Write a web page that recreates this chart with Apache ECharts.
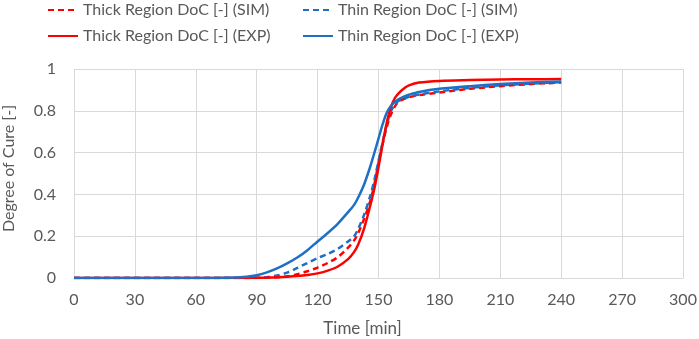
<!DOCTYPE html>
<html>
<head>
<meta charset="utf-8">
<script src="https://cdn.jsdelivr.net/npm/echarts@6/dist/echarts.min.js"></script>
<style>
  html, body { margin: 0; padding: 0; background: #fff; }
  #chart { width: 699px; height: 339px; }
</style>
</head>
<body>
<div id="chart"></div>
<script>
const timeMin = [0, 60, 75, 85, 90, 95, 100, 105, 110, 115, 120, 125, 130, 135, 138, 140, 143, 146, 148, 150,
    152, 154, 156, 158, 160, 163, 165, 170, 180, 195, 210, 225, 240];

const thickSim = [0, 0, 0, 0, 0, 0.001, 0.003, 0.008, 0.018, 0.032, 0.05, 0.072, 0.1, 0.145, 0.18, 0.215, 0.285, 0.37, 0.45, 0.55,
    0.64, 0.72, 0.78, 0.82, 0.845, 0.858, 0.865, 0.875, 0.888, 0.905, 0.918, 0.928, 0.935];
const thinSim = [0, 0, 0, 0, 0.001, 0.004, 0.012, 0.026, 0.048, 0.072, 0.095, 0.115, 0.14, 0.175, 0.2, 0.235, 0.305, 0.395, 0.47, 0.56,
    0.65, 0.73, 0.795, 0.828, 0.848, 0.86, 0.867, 0.878, 0.893, 0.91, 0.922, 0.93, 0.937];
const thickExp = [0, 0, 0, 0, 0.001, 0.002, 0.004, 0.006, 0.009, 0.014, 0.022, 0.035, 0.055, 0.09, 0.125, 0.16, 0.24, 0.35, 0.43, 0.53,
    0.64, 0.74, 0.815, 0.86, 0.885, 0.91, 0.922, 0.935, 0.943, 0.947, 0.95, 0.951, 0.952];
const thinExp = [0, 0, 0.001, 0.006, 0.013, 0.027, 0.046, 0.07, 0.098, 0.133, 0.175, 0.215, 0.26, 0.315, 0.35, 0.385, 0.45, 0.535, 0.6, 0.667,
    0.735, 0.79, 0.822, 0.842, 0.856, 0.87, 0.877, 0.89, 0.905, 0.918, 0.928, 0.935, 0.94];

const xTicks = { min: 0, max: 300, interval: 30 };
const yTicks = { min: 0, max: 1, interval: 0.2 };

const RED = '#ff0000';
const BLUE = '#1f6fc5';
const GRID = '#d9d9d9';
const TEXT = '#595959';
const FONT = 'Lato';

function pairs(ys) {
    return timeMin.map((t, i) => [t, ys[i]]);
}

function line(name, color, dashed, ys) {
    return {
        name: name,
        type: 'line',
        smooth: 0.3,
        symbol: 'none',
        lineStyle: { color: color, width: 2.5, type: dashed ? [6, 4] : 'solid' },
        itemStyle: { color: color },
        data: pairs(ys)
    };
}

const chart = echarts.init(document.getElementById('chart'), null, { renderer: 'canvas' });

const legendText = { color: TEXT, fontSize: 16, fontFamily: FONT };

function legendColumn(left, names) {
    return {
        orient: 'vertical',
        left: left, top: -3,
        itemWidth: 30, itemHeight: 16, itemGap: 10,
        itemStyle: { opacity: 0 },
        textStyle: legendText,
        data: names
    };
}

chart.setOption({
    animation: false,
    backgroundColor: '#fff',
    textStyle: { fontFamily: FONT },
    grid: { left: 74, right: 16, top: 69, bottom: 61, containLabel: false, outerBoundsMode: 'none' },
    legend: [
        legendColumn(42, ['Thick Region DoC [-] (SIM)', 'Thick Region DoC [-] (EXP)']),
        legendColumn(297, ['Thin Region DoC [-] (SIM)', 'Thin Region DoC [-] (EXP)'])
    ],
    xAxis: {
        type: 'value',
        min: xTicks.min, max: xTicks.max, interval: xTicks.interval,
        name: 'Time [min]',
        nameLocation: 'middle',
        nameGap: 42,
        nameTextStyle: { color: TEXT, fontSize: 17, fontFamily: FONT, padding: [0, 32, 0, 0] },
        axisLine: { lineStyle: { color: GRID } },
        axisTick: { show: false },
        axisLabel: { color: TEXT, fontSize: 16, margin: 14 },
        splitLine: { lineStyle: { color: GRID, width: 1 } }
    },
    yAxis: {
        type: 'value',
        min: yTicks.min, max: yTicks.max, interval: yTicks.interval,
        name: 'Degree of Cure [-]',
        nameLocation: 'middle',
        nameGap: 57,
        nameTextStyle: { color: TEXT, fontSize: 16, fontFamily: FONT, padding: [0, 0, 0, 10] },
        axisLine: { show: false },
        axisTick: { show: false },
        axisLabel: { color: TEXT, fontSize: 16, margin: 18 },
        splitLine: { lineStyle: { color: GRID, width: 1 } }
    },
    series: [
        line('Thick Region DoC [-] (SIM)', RED, true, thickSim),
        line('Thin Region DoC [-] (SIM)', BLUE, true, thinSim),
        line('Thick Region DoC [-] (EXP)', RED, false, thickExp),
        line('Thin Region DoC [-] (EXP)', BLUE, false, thinExp)
    ]
});
</script>
</body>
</html>
